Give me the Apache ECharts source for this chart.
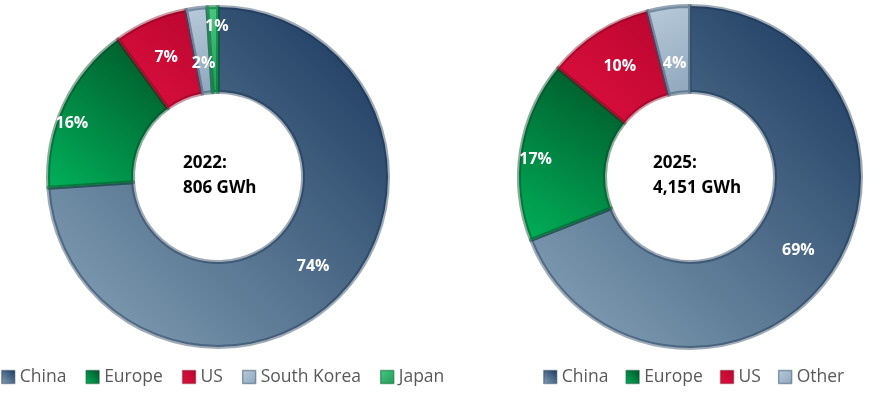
<!DOCTYPE html>
<html>
<head>
<meta charset="utf-8">
<script src="https://cdn.jsdelivr.net/npm/echarts@6/dist/echarts.min.js"></script>
<style>
html,body{margin:0;padding:0;background:#fff;}
#chart{width:892px;height:399px;}
</style>
</head>
<body>
<div id="chart"></div>
<script>
// ---- data ----
const categories2022 = ['China', 'Europe', 'US', 'South Korea', 'Japan'];
const values2022 = [74, 16, 7, 2, 1];
const categories2025 = ['China', 'Europe', 'US', 'Other'];
const values2025 = [69, 17, 10, 4];
const centerYears = ['2022', '2025'];
const centerTotals = ['806 GWh', '4,151 GWh'];

// ---- styles ----
function grad(x, y, x2, y2, c1, c2) {
  return new echarts.graphic.LinearGradient(x, y, x2, y2, [{offset: 0, color: c1}, {offset: 1, color: c2}]);
}
const styles = {
  'China':       {color: () => grad(1, 0, 0, 1, '#15345a', '#8aa6bb'), border: 'rgba(20,45,75,0.40)'},
  'Europe':      {color: () => grad(0, 1, 1, 0, '#00b25a', '#005026'), border: 'rgba(0,70,35,0.45)'},
  'US':          {color: () => grad(0, 1, 1, 0, '#e0103f', '#b8062e'), border: 'rgba(120,0,25,0.40)'},
  'South Korea': {color: () => grad(0, 0, 1, 1, '#b9cbdb', '#8ea6bb'), border: 'rgba(60,90,115,0.55)'},
  'Other':       {color: () => grad(0, 0, 1, 1, '#b9cbdb', '#8ea6bb'), border: 'rgba(60,90,115,0.55)'},
  'Japan':       {color: () => grad(0, 0, 1, 1, '#4cc884', '#1f9a58'), border: 'rgba(0,110,50,0.55)'}
};
const labelOffsets2022 = {'Europe': [-28, 2], 'South Korea': [2, 16], 'Japan': [3, -20]};
const labelOffsets2025 = {'Europe': [-25, 3], 'Other': [1, 16]};

function buildData(cats, vals, offsets) {
  return cats.map((c, i) => ({
    name: c,
    value: vals[i],
    itemStyle: {color: styles[c].color(), borderColor: styles[c].border, borderWidth: 4},
    label: offsets[c] ? {offset: offsets[c]} : {}
  }));
}

const labelStyle = {
  show: true, position: 'inside', formatter: '{c}%',
  color: '#ffffff', fontFamily: 'Open Sans', fontWeight: 'bold', fontSize: 16
};

const chart = echarts.init(document.getElementById('chart'), null, {renderer: 'canvas'});
const legendText = {fontFamily: 'Open Sans', fontSize: 17.5, color: '#595959'};
chart.setOption({
  animation: false,
  legend: [
    {data: categories2022, left: 1, top: 368, padding: 0, icon: 'rect', itemWidth: 13, itemHeight: 13, itemGap: 19, textStyle: legendText,
     itemStyle: {borderWidth: 1.5}},
    {data: categories2025, left: 543, top: 368, padding: 0, icon: 'rect', itemWidth: 13, itemHeight: 13, itemGap: 17, textStyle: legendText,
     itemStyle: {borderWidth: 1.5}}
  ],
  title: [
    {text: centerYears[0] + ':\n' + centerTotals[0], left: 178, top: 146,
     textStyle: {fontFamily: 'Open Sans', fontWeight: 'bold', fontSize: 17, color: '#000', lineHeight: 25}},
    {text: centerYears[1] + ':\n' + centerTotals[1], left: 648, top: 146,
     textStyle: {fontFamily: 'Open Sans', fontWeight: 'bold', fontSize: 17, color: '#000', lineHeight: 25}}
  ],
  series: [
    {type: 'pie', center: [218, 177], radius: [85, 170], startAngle: 90, clockwise: true,
     label: labelStyle, labelLine: {show: false}, emphasis: {disabled: true},
     data: buildData(categories2022, values2022, labelOffsets2022)},
    {type: 'pie', center: [690, 177], radius: [85, 171], startAngle: 90, clockwise: true,
     label: labelStyle, labelLine: {show: false}, emphasis: {disabled: true},
     data: buildData(categories2025, values2025, labelOffsets2025)}
  ]
});
</script>
</body>
</html>
